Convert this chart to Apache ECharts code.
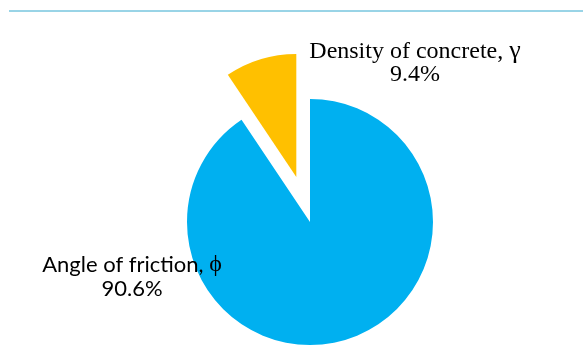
<!DOCTYPE html>
<html>
<head>
<meta charset="utf-8">
<script src="https://cdn.jsdelivr.net/npm/echarts@6/dist/echarts.min.js"></script>
<style>
  html, body { margin: 0; padding: 0; background: #fff; }
  #chart { width: 583px; height: 355px; }
</style>
</head>
<body>
<div id="chart"></div>
<script>
// Sensitivity share of each input parameter (percent)
const categories = ['Angle of friction, ', 'Density of concrete, '];
const symbols = ['\u03d5', '\u03b3'];
const shares = [90.6, 9.4];
const colors = ['#00B0F0', '#FFC000'];

// Label styling and placement (horizontal centre, top of the two-line block)
const labelStyles = [
  { left: 132, top: 253, family: 'Lato', size: 22, lineHeight: 24 },
  { left: 415, top: 40, family: 'Liberation Serif', size: 24, lineHeight: 23 }
];
const symbolFamily = '"Liberation Serif", "DejaVu Serif", serif';

const chart = echarts.init(document.getElementById('chart'), null, { renderer: 'canvas' });

const data = categories.map((name, i) => ({
  name: name + symbols[i],
  value: shares[i],
  selected: i === 1,
  itemStyle: { color: colors[i] }
}));

// Two-line category labels: name with its symbol, then the share in percent
const labels = categories.map((name, i) => {
  const st = labelStyles[i];
  const base = { fontFamily: st.family, fontSize: st.size, lineHeight: st.lineHeight, color: '#000' };
  return {
    text: '{t|' + name + '}{s|' + symbols[i] + '}\n{t|' + shares[i].toFixed(1) + '%}',
    left: st.left,
    top: st.top,
    textAlign: 'center',
    padding: 0,
    z: 10,
    textStyle: {
      fontFamily: st.family,
      fontSize: st.size,
      lineHeight: st.lineHeight,
      fontWeight: 'normal',
      color: '#000',
      rich: {
        t: base,
        s: Object.assign({}, base, { fontFamily: symbolFamily, fontSize: st.size + 2 })
      }
    }
  };
});

chart.setOption({
  animation: false,
  backgroundColor: '#fff',
  title: labels,
  graphic: [{
    type: 'line',
    shape: { x1: 9, y1: 11, x2: 583, y2: 11 },
    style: { stroke: '#34A9CE', lineWidth: 1 }
  }],
  series: [{
    type: 'pie',
    center: [310, 222],
    radius: 123,
    startAngle: 90,
    clockwise: true,
    selectedMode: 'single',
    selectedOffset: 47,
    emphasis: { disabled: true },
    label: { show: false },
    labelLine: { show: false },
    data
  }]
});
</script>
</body>
</html>
